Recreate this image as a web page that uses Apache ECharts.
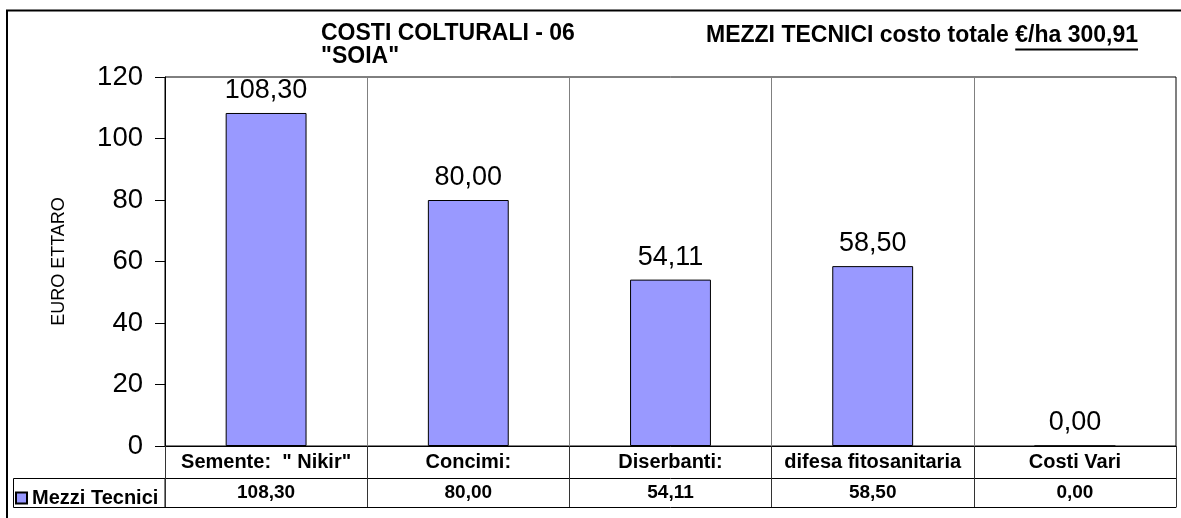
<!DOCTYPE html>
<html>
<head>
<meta charset="utf-8">
<script src="https://cdn.jsdelivr.net/npm/echarts@6/dist/echarts.min.js"></script>
<style>
html,body{margin:0;padding:0;background:#fff;}
#c{width:1181px;height:518px;}
</style>
</head>
<body>
<div id="c"></div>
<script>
// ---- data ----
var categories = ['Semente:  " Nikir"', 'Concimi:', 'Diserbanti:', 'difesa fitosanitaria', 'Costi Vari'];
var values = [108.30, 80.00, 54.11, 58.50, 0.00];
var seriesName = 'Mezzi Tecnici';
var yTicks = [0, 20, 40, 60, 80, 100, 120];
var titleLeft = 'COSTI COLTURALI - 06\n"SOIA"';
var titleRightPlain = 'MEZZI TECNICI costo totale ';
var titleRightUnder = '€/ha 300,91';
var yName = 'EURO ETTARO';

function fmt(v){ return v.toFixed(2).replace('.', ','); }
var valueLabels = values.map(fmt);

var FONT = "'Liberation Sans', Arial, sans-serif";

function textWidth(t, font){
  var c = document.createElement('canvas').getContext('2d');
  c.font = font; return c.measureText(t).width;
}

var TFONT = 'bold 23px ' + FONT;
var titleRightEnd = 1138;
var underW = textWidth(titleRightUnder, TFONT);
var plainW = textWidth(titleRightPlain, TFONT);

var chart = echarts.init(document.getElementById('c'), null, {renderer:'canvas'});
var gridL = 165, gridR = 5, gridT = 77, gridB = 72;

chart.setOption({
  backgroundColor:'#fff',
  animation:false,
  textStyle:{fontFamily:FONT},
  title:[{
    text:titleLeft, left:316, top:17,
    textStyle:{fontFamily:FONT, fontWeight:'bold', fontSize:23, color:'#000', lineHeight:23}
  }],
  legend:{
    data:[seriesName], left:10, top:483, icon:'rect', itemWidth:11, itemHeight:11, itemGap:3,
    textStyle:{fontFamily:FONT, fontWeight:'bold', fontSize:20, color:'#000'}
  },
  grid:{left:gridL, right:gridR, top:gridT, bottom:gridB, show:true, borderColor:'#000', borderWidth:1, containLabel:false},
  xAxis:[{
    type:'category', data:categories, position:'bottom',
    axisLine:{show:true, lineStyle:{color:'#000', width:1}},
    axisTick:{show:true, length:61, lineStyle:{color:'#333'}},
    axisLabel:{fontFamily:FONT, fontWeight:'bold', fontSize:20, color:'#000', margin:6, interval:0},
    splitLine:{show:true, lineStyle:{color:'#808080'}}
  },{
    type:'category', data:valueLabels, position:'bottom', offset:32,
    axisLine:{show:true, lineStyle:{color:'#000', width:1}},
    axisTick:{show:false},
    axisLabel:{fontFamily:FONT, fontWeight:'bold', fontSize:19, color:'#000', margin:5, interval:0},
    splitLine:{show:false}
  },{
    type:'category', data:valueLabels, position:'bottom', offset:61,
    axisLine:{show:true, lineStyle:{color:'#000', width:1}},
    axisTick:{show:false}, axisLabel:{show:false}, splitLine:{show:false}
  }],
  yAxis:{
    type:'value', min:yTicks[0], max:yTicks[yTicks.length-1], interval:yTicks[1]-yTicks[0],
    name:yName, nameLocation:'middle', nameGap:97, nameRotate:90,
    nameTextStyle:{fontFamily:FONT, fontSize:18, color:'#000'},
    axisLine:{show:true, lineStyle:{color:'#000'}},
    axisTick:{show:true, length:10, lineStyle:{color:'#000'}},
    axisLabel:{fontFamily:FONT, fontSize:27.5, color:'#000', margin:22},
    splitLine:{show:false}
  },
  series:[{
    name:seriesName, type:'bar', data:values, barWidth:'40%', xAxisIndex:0,
    itemStyle:{color:'#9999FF', borderColor:'#000', borderWidth:1},
    label:{show:true, position:'top', distance:9, fontFamily:FONT, fontSize:27, color:'#000',
      formatter:function(p){return fmt(p.value);}}
  }],
  graphic:[
    {type:'rect', shape:{x:7, y:10.5, width:1300, height:700}, style:{fill:'none', stroke:'#000', lineWidth:2}, silent:true},
    {type:'rect', shape:{x:13.5, y:478.5, width:151.5, height:29}, style:{fill:'none', stroke:'#000', lineWidth:1}, silent:true},
    {type:'text', left: titleRightEnd - underW - plainW, top:24,
      style:{text:titleRightPlain + titleRightUnder, font:TFONT, fill:'#000'}},
    {type:'line', shape:{x1:titleRightEnd - underW, y1:49.5, x2:titleRightEnd, y2:49.5}, style:{stroke:'#000', lineWidth:2}}
  ]
});
</script>
</body>
</html>
